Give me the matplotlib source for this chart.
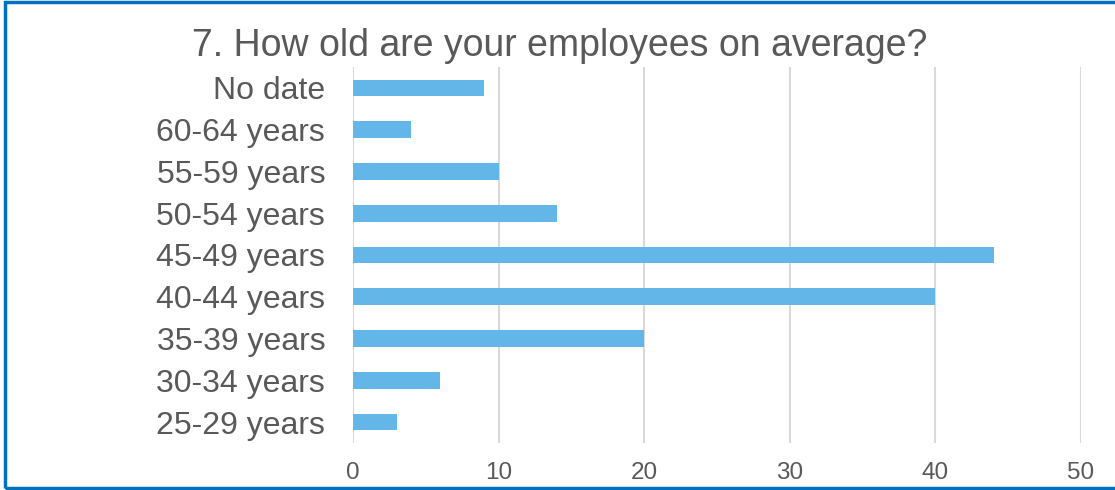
import matplotlib.pyplot as plt
from matplotlib.patches import Rectangle

plt.rcParams['font.family'] = ['Liberation Sans', 'DejaVu Sans']

categories = ['25-29 years', '30-34 years', '35-39 years', '40-44 years',
              '45-49 years', '50-54 years', '55-59 years', '60-64 years', 'No date']
counts = [3, 6, 20, 40, 44, 14, 10, 4, 9]
xticks = [0, 10, 20, 30, 40, 50]

fig = plt.figure(figsize=(11.15, 4.9), dpi=100)
ax = fig.add_axes([0.3166, 0.0959, 0.6529, 0.7674])

ax.barh(range(len(categories)), counts, height=0.4, color='#63B6E8', zorder=3)

ax.set_xlim(0, 50)
ax.set_ylim(-0.5, len(categories) - 0.5)
ax.set_xticks(xticks)
ax.set_yticks(range(len(categories)))
ax.set_yticklabels(categories)
ax.grid(axis='x', color='#D9D9D9', linewidth=1.5, zorder=0)
for s in ax.spines.values():
    s.set_visible(False)
ax.tick_params(axis='x', length=0, pad=14, labelsize=17.5, labelcolor='#595959')
ax.tick_params(axis='y', length=0, pad=20, labelsize=23, labelcolor='#595959')

fig.text(0.502, 0.907, '7. How old are your employees on average?',
         ha='center', va='center', fontsize=27, color='#595959')

# blue frame around the chart
fig.add_artist(Rectangle((5 / 1115, 2 / 490), 1.2, 486 / 490,
                         transform=fig.transFigure, fill=False,
                         edgecolor='#0070C0', linewidth=2.5))

fig.savefig('out.png', dpi=100)
